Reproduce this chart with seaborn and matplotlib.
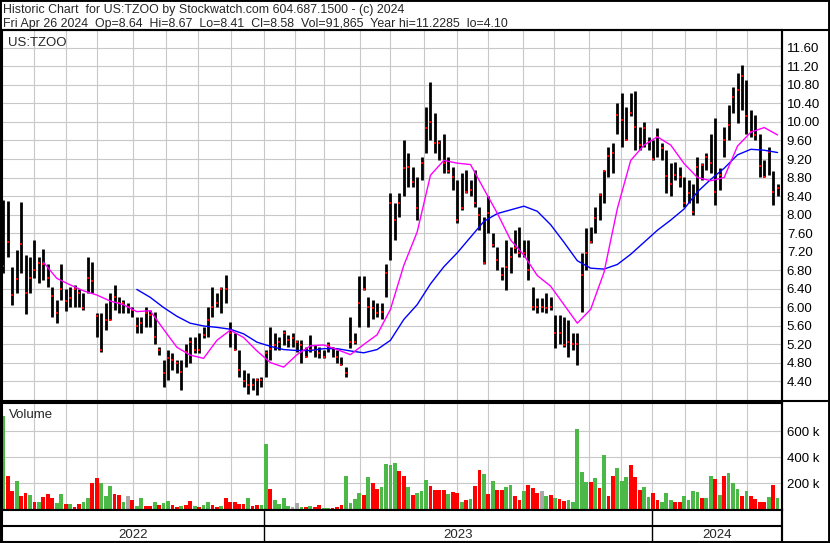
import numpy as np
import pandas as pd
import matplotlib
matplotlib.use("Agg")
import matplotlib.pyplot as plt
import seaborn as sns
from matplotlib.lines import Line2D
from pandas.tseries.offsets import CustomBusinessDay

# === Price bars, one every ~3 trading days ===
high = [8.31, 8.29, 6.87, 7.23, 8.26, 7.12, 7.09, 7.45, 7.09, 7.25,
        6.94, 6.44, 6.15, 6.93, 6.40, 6.44, 6.48, 6.40, 6.30, 7.09,
        6.98, 5.86, 5.86, 6.08, 6.30, 6.48, 6.22, 6.16, 6.08, 6.01,
        5.79, 5.79, 6.01, 5.94, 5.90, 5.14, 4.85, 5.07, 5.00, 4.85,
        4.85, 5.21, 5.36, 5.36, 5.43, 5.57, 6.01, 6.44, 6.30, 6.44,
        6.69, 5.68, 5.43, 5.07, 4.64, 4.57, 4.46, 4.46, 4.49, 5.07,
        5.57, 5.43, 5.36, 5.50, 5.39, 5.43, 5.29, 5.29, 5.14, 5.39,
        5.18, 5.14, 5.07, 5.25, 5.14, 5.07, 4.93, 4.71, 5.79, 5.43,
        6.66, 6.66, 6.22, 6.15, 6.08, 6.08, 6.94, 8.46, 8.24, 8.46,
        9.61, 9.32, 9.03, 8.82, 9.25, 10.33, 10.87, 10.19, 9.61, 9.75,
        9.25, 9.03, 8.75, 8.89, 8.96, 8.75, 8.96, 8.17, 7.95, 8.39,
        7.59, 7.30, 6.87, 7.45, 7.30, 7.66, 7.74, 7.45, 7.45, 6.44,
        6.19, 6.19, 6.30, 6.22, 5.83, 5.83, 5.79, 5.72, 5.43, 5.43,
        7.16, 7.70, 7.74, 8.17, 8.46, 8.96, 9.47, 9.54, 10.40, 10.62,
        10.33, 10.62, 10.66, 9.90, 10.01, 9.68, 9.61, 9.86, 9.54, 9.39,
        9.11, 9.14, 9.03, 8.82, 8.75, 8.67, 9.25, 9.11, 9.32, 9.75,
        10.08, 9.00, 9.90, 10.37, 10.76, 11.05, 11.23, 10.91, 10.26, 10.15,
        9.75, 9.18, 9.47, 8.93, 8.67]
low = [6.73, 7.09, 6.04, 6.30, 6.73, 5.85, 6.30, 6.62, 6.51, 6.58,
       6.44, 5.79, 5.65, 6.15, 5.92, 6.01, 6.01, 6.01, 5.94, 6.30,
       6.30, 5.36, 5.03, 5.50, 5.72, 5.94, 5.86, 5.86, 5.86, 5.79,
       5.43, 5.43, 5.57, 5.57, 5.21, 4.96, 4.28, 4.42, 4.64, 4.57,
       4.21, 4.71, 4.78, 5.00, 5.00, 5.32, 5.36, 5.79, 6.01, 5.86,
       6.08, 5.14, 5.07, 4.49, 4.28, 4.13, 4.21, 4.10, 4.28, 4.49,
       4.85, 5.07, 5.07, 5.18, 5.14, 5.14, 5.03, 4.78, 4.93, 5.03,
       4.93, 4.89, 4.89, 5.03, 4.93, 4.78, 4.75, 4.49, 5.11, 5.21,
       5.57, 6.37, 5.57, 5.75, 5.79, 5.75, 6.22, 7.02, 7.45, 7.95,
       8.39, 8.60, 8.60, 7.88, 8.75, 9.32, 9.61, 9.32, 9.18, 8.89,
       8.89, 8.53, 7.81, 8.10, 8.46, 8.39, 8.17, 7.66, 6.94, 7.59,
       7.30, 6.80, 6.58, 6.37, 6.73, 7.16, 7.09, 7.09, 6.58, 5.94,
       5.86, 5.90, 5.86, 5.94, 5.11, 5.21, 5.14, 4.93, 5.07, 4.75,
       5.90, 6.80, 7.38, 7.59, 7.88, 8.24, 8.82, 8.89, 9.75, 9.47,
       9.61, 10.12, 9.39, 9.39, 9.47, 9.39, 9.18, 9.25, 9.18, 8.46,
       8.39, 8.75, 8.60, 8.17, 8.24, 7.99, 8.24, 8.75, 8.96, 8.89,
       8.20, 8.53, 9.25, 9.61, 10.19, 9.97, 10.26, 9.75, 9.68, 9.61,
       8.82, 8.82, 8.85, 8.20, 8.41]
close = [6.89, 7.41, 6.25, 6.60, 7.36, 6.31, 6.63, 6.80, 6.96, 6.93,
         6.63, 6.24, 5.88, 6.38, 6.13, 6.20, 6.40, 6.31, 5.97, 6.63,
         6.57, 5.80, 5.07, 5.73, 5.73, 6.21, 6.08, 6.08, 6.01, 5.94,
         5.58, 5.65, 5.86, 5.83, 5.36, 5.07, 4.57, 4.89, 4.85, 4.80,
         4.60, 5.03, 5.25, 5.07, 5.07, 5.39, 5.73, 6.01, 6.08, 6.40,
         6.38, 5.43, 5.07, 4.64, 4.39, 4.31, 4.31, 4.42, 4.42, 5.00,
         5.10, 5.18, 5.25, 5.43, 5.29, 5.32, 5.25, 5.18, 4.93, 5.07,
         5.07, 5.00, 4.93, 5.18, 5.11, 4.93, 4.75, 4.57, 5.25, 5.25,
         6.08, 6.40, 6.01, 5.97, 5.86, 5.90, 6.73, 8.24, 7.88, 8.24,
         9.00, 9.03, 8.71, 8.13, 9.11, 9.88, 10.01, 9.54, 9.54, 9.11,
         8.93, 8.82, 7.88, 8.13, 8.49, 8.53, 8.24, 7.99, 6.96, 8.03,
         7.34, 7.02, 6.69, 6.87, 7.09, 7.27, 7.16, 7.16, 6.80, 6.01,
         6.01, 6.01, 5.97, 6.01, 5.43, 5.43, 5.18, 5.25, 5.21, 5.21,
         6.69, 7.16, 7.41, 7.92, 8.42, 8.93, 9.26, 9.32, 10.15, 10.04,
         9.61, 10.19, 9.90, 9.50, 9.88, 9.57, 9.19, 9.68, 9.43, 8.83,
         8.67, 8.85, 8.82, 8.24, 8.46, 8.06, 9.03, 9.07, 9.25, 9.11,
         8.49, 8.85, 9.61, 9.94, 10.55, 10.69, 10.99, 10.13, 9.79, 9.72,
         9.05, 8.82, 9.36, 8.49, 8.58]

# volume in thousands, and bar colour: g = up, r = down, n = unchanged
volume_k = [720, 260, 140, 220, 100, 130, 110, 56, 60, 95,
            120, 90, 50, 120, 42, 45, 22, 40, 60, 85,
            200, 240, 200, 100, 180, 120, 110, 60, 100, 75,
            30, 90, 28, 30, 55, 38, 50, 65, 35, 23,
            28, 31, 65, 28, 20, 38, 60, 35, 20, 25,
            90, 60, 60, 40, 44, 90, 25, 38, 31, 500,
            160, 70, 40, 90, 30, 23, 50, 23, 18, 28,
            20, 31, 13, 13, 13, 22, 31, 260, 48, 80,
            125, 115, 250, 200, 160, 170, 350, 340, 360, 295,
            260, 170, 115, 130, 140, 230, 180, 150, 150, 150,
            120, 135, 130, 56, 75, 82, 180, 300, 270, 118,
            220, 150, 150, 170, 190, 100, 70, 140, 190, 165,
            130, 140, 100, 110, 90, 80, 69, 75, 56, 620,
            290, 210, 210, 240, 165, 420, 100, 255, 320, 220,
            250, 340, 250, 150, 170, 95, 130, 75, 60, 130,
            74, 56, 56, 100, 74, 140, 135, 90, 85, 260,
            235, 115, 260, 280, 200, 160, 100, 140, 100, 80,
            60, 56, 95, 190, 92]
vol_dir = ("grrgrrgrgr" "rrggrgrrgg" "rrgggrrgnr" "ggrrgrggrr" "grrgrggrrg"
           "rrrrrgrrgg" "rggggnngrg" "rrggrrrggg" "grgrrggggr" "rgrgggrrrr"
           "grrgrgrrgr" "grrggrrgrr" "rngrgrrggg" "ggrgrgrrgg" "grrrggrrgg"
           "grrggggrgg" "rgrgggrgrr" "rrgrg")

# moving averages, read every third bar
ma_step = 3
ma_fast = [np.nan, np.nan, np.nan, 6.97, 6.62, 6.48, 6.35, 6.26, 6.13, 6.05,
           5.90, 5.92, 5.52, 5.13, 4.96, 4.89, 5.28, 5.50, 5.34, 5.05,
           4.80, 4.70, 4.97, 5.16, 5.18, 5.08, 4.97, 5.19, 5.40, 5.95,
           6.90, 7.62, 8.85, 9.17, 9.11, 9.08, 8.55, 8.03, 7.45, 7.12,
           6.68, 6.45, 6.05, 5.65, 5.95, 6.75, 8.13, 9.17, 9.50, 9.68,
           9.50, 9.10, 8.80, 8.73, 8.80, 9.48, 9.78, 9.88, 9.72]
ma_slow = [np.nan] * 10 + [
           6.38, 6.21, 5.99, 5.80, 5.65, 5.59, 5.56, 5.52, 5.42, 5.24,
           5.15, 5.08, 5.06, 5.06, 5.10, 5.10, 5.05, 5.01, 5.08, 5.28,
           5.73, 6.05, 6.50, 6.87, 7.17, 7.51, 7.85, 8.02, 8.10, 8.18,
           8.07, 7.78, 7.40, 7.00, 6.84, 6.82, 6.92, 7.14, 7.40, 7.66,
           7.88, 8.12, 8.49, 8.76, 9.00, 9.29, 9.41, 9.39, 9.34]

price_ticks = [4.40, 4.80, 5.20, 5.60, 6.00, 6.40, 6.80, 7.20, 7.60, 8.00,
               8.40, 8.80, 9.20, 9.60, 10.00, 10.40, 10.80, 11.20, 11.60]
vol_ticks = [200, 400, 600]

# trading calendar of the chart
first_day, last_day = "2022-05-03", "2024-04-26"
holidays = ["2022-05-30", "2022-06-20", "2022-07-04", "2022-09-05", "2022-11-24",
            "2022-12-26", "2023-01-02", "2023-01-16", "2023-02-20", "2023-04-07",
            "2023-05-29", "2023-06-19", "2023-07-04", "2023-09-04", "2023-11-23",
            "2023-12-25", "2024-01-01", "2024-01-15", "2024-02-19", "2024-03-29"]

title_1 = "Historic Chart  for US:TZOO by Stockwatch.com 604.687.1500 - (c) 2024"
title_2 = ("Fri Apr 26 2024  Op=8.64  Hi=8.67  Lo=8.41  Cl=8.58  "
           "Vol=91,865  Year hi=11.2285  lo=4.10")

# === Positions ===
n = len(close)
idx = np.arange(n)
days = pd.date_range(first_day, last_day, freq=CustomBusinessDay(holidays=holidays))
scale = (n - 1) / (len(days) - 1)
month_pos = [(i - 0.5) * scale for i in range(1, len(days)) if days[i].month != days[i - 1].month]
year_pos = [(i - 0.5) * scale for i in range(1, len(days)) if days[i].year != days[i - 1].year]
ma_x = idx[::ma_step]

# === Style ===
sns.set_theme(style="white")
plt.rcParams["font.family"] = ["Liberation Sans", "DejaVu Sans"]
GRID = "#c8c8c8"
W, H = 830, 543
XLIM = (-0.3, n + 0.0)

fig = plt.figure(figsize=(W / 100, H / 100), dpi=100)


def px_axes(x0, y0, x1, y1):
    return fig.add_axes([x0 / W, 1 - y1 / H, (x1 - x0) / W, (y1 - y0) / H])


ax_p = px_axes(2, 30, 782, 401)
ax_v = px_axes(2, 403, 782, 509.5)
ax_d = px_axes(2, 509.5, 782, 541.5)

for ax in (ax_p, ax_v, ax_d):
    ax.set_xlim(*XLIM)
    for s in ax.spines.values():
        s.set_color("black")
        s.set_linewidth(1.5)

# === Price panel ===
ax_p.set_axisbelow(True)
ax_p.vlines(idx, low, high, color="black", lw=2.0)
ax_p.plot(idx, close, "s", color="red", ms=2.0, mew=0)
sns.lineplot(x=ma_x, y=ma_slow, color="#0000ff", lw=1, ax=ax_p)
sns.lineplot(x=ma_x, y=ma_fast, color="#ff00ff", lw=1, ax=ax_p)
ax_p.set_ylim(3.968, 11.989)
ax_p.set_yticks(price_ticks)
ax_p.set_yticklabels([f"{t:.2f}" for t in price_ticks])
ax_p.yaxis.tick_right()
ax_p.set_xticks(month_pos)
ax_p.set_xticklabels([])
ax_p.tick_params(axis="both", length=0)
ax_p.tick_params(axis="y", pad=3.5, labelsize=9.5, labelcolor="black")
ax_p.grid(True, color=GRID, lw=0.8)
ax_p.text(6 / 780, 1 - 16 / 371, "US:TZOO", transform=ax_p.transAxes,
          fontsize=9.5, va="baseline", ha="left")

# === Volume panel ===
ax_v.set_axisbelow(True)
vol_df = pd.DataFrame({"i": idx, "vol": volume_k, "dir": list(vol_dir)})
sns.barplot(data=vol_df, x="i", y="vol", hue="dir", native_scale=True, dodge=False,
            palette={"g": "#4cb848", "r": "#ff0000", "n": "#a8a8a8"},
            width=0.85, saturation=1, errorbar=None, legend=False,
            linewidth=0, edgecolor="none", ax=ax_v)
ax_v.set_xlim(*XLIM)
ax_v.set_ylim(0, 819)
ax_v.set_yticks(vol_ticks)
ax_v.set_yticklabels([f"{t} k" for t in vol_ticks])
ax_v.yaxis.tick_right()
ax_v.set_xticks(month_pos)
ax_v.set_xticklabels([])
ax_v.tick_params(axis="both", length=0)
ax_v.tick_params(axis="y", pad=3.5, labelsize=9.5, labelcolor="black")
ax_v.grid(True, color=GRID, lw=0.8)
ax_v.set_xlabel("")
ax_v.set_ylabel("")
ax_v.text(7 / 780, 1 - 15 / 106.5, "Volume", transform=ax_v.transAxes,
          fontsize=9.5, va="baseline", ha="left")

# === Date strip ===
ax_d.set_ylim(0, 1)
ax_d.set_xticks([])
ax_d.set_yticks([])
ax_d.axhline(0.469, color="black", lw=1.5)
ax_d.vlines(year_pos, 0, 1, color="black", lw=1)
edges = [XLIM[0]] + year_pos + [XLIM[1]]
for (a, b), y in zip(zip(edges[:-1], edges[1:]), ["2022", "2023", "2024"]):
    ax_d.text((a + b) / 2, 0.2, y, ha="center", va="center", fontsize=9.5)

# === Frame and header ===
fig.add_artist(plt.Rectangle((0, 0), 1, 1, transform=fig.transFigure,
                             fill=False, lw=2.8, edgecolor="black"))
fig.add_artist(Line2D([0, 1], [1 - 30 / H] * 2, transform=fig.transFigure,
                      color="black", lw=1.5))
fig.add_artist(Line2D([782 / W, 1], [1 - 401 / H] * 2, transform=fig.transFigure,
                      color="black", lw=1.5))
fig.add_artist(Line2D([782 / W] * 2, [0, 1 - 30 / H], transform=fig.transFigure,
                      color="black", lw=1.5))
fig.text(3 / W, 1 - 12.7 / H, title_1, fontsize=8.9, va="baseline", ha="left")
fig.text(3 / W, 1 - 27.5 / H, title_2, fontsize=8.9, va="baseline", ha="left")

fig.savefig("out.png", dpi=100)
